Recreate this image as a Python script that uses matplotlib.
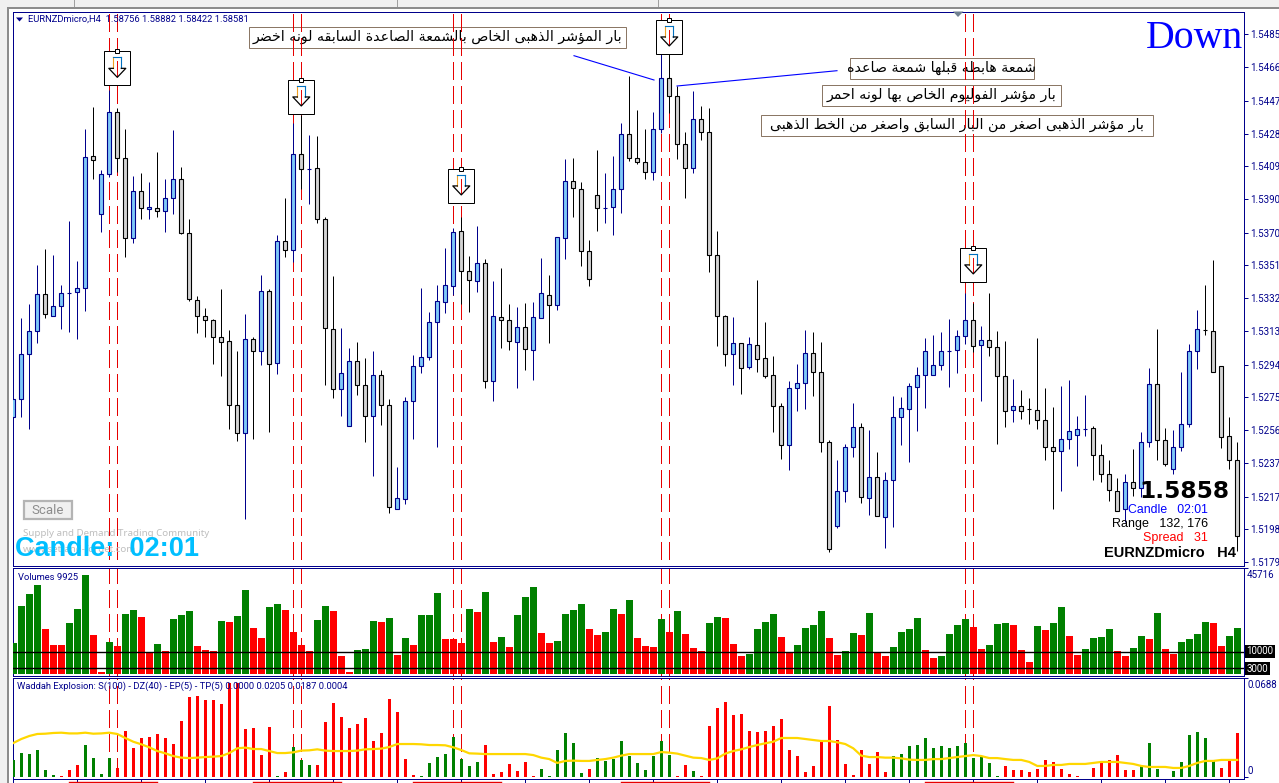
import numpy as np
import matplotlib
matplotlib.use('Agg')
import matplotlib.pyplot as plt
from matplotlib.patches import Rectangle, Polygon
from matplotlib.lines import Line2D

W_PX, H_PX = 1279, 783
NAVY = '#00008B'
TICK_FONT = 'Roboto'
TICK_SIZE = 7.0
LABEL_SIZE = 6.75

# prices are in points (1e-5)
opens = [152636,152741,153002,153135,153350,153222,153280,153357,153361,153385,
         154150,153814,154046,154405,154139,153675,153947,153843,153849,153831,
         153907,154017,153704,153315,153222,153199,153100,153077,152706,152544,
         153089,153019,153367,152950,153657,153605,154162,154075,154081,153785,
         153147,152799,152584,152961,152822,152642,152880,152706,152103,152161,
         152729,152932,152984,153187,153303,153396,153715,153483,153425,153530,
         152845,153216,153199,153071,153158,153025,153211,153344,153286,153675,
         154005,153959,153599,153924,153849,153854,153959,154278,154139,154115,
         154057,154307,154603,154498,154220,154081,154365,154289,153576,153222,
         153002,153066,152926,153054,152979,152880,152700,152474,152805,152834,
         153008,152897,152491,152004,152207,152462,152578,152167,152288,152056,
         152271,152636,152683,152810,152880,152880,152938,153019,153025,153106,
         153199,153054,153083,153042,152874,152677,152700,152684,152677,152619,
         152462,152439,152509,152532,152567,152573,152416,152306,152207,152103,
         152259,152225,152491,152828,152503,152335,152462,152596,153019,153142,
         153135,152932,152526,152387]
highs = [152770,153211,153292,153518,153611,153576,153402,153773,153541,154307,
         154434,154069,154533,154429,154307,154034,154052,154000,154173,154017,
         154301,154086,153785,153338,153269,153205,153379,153141,153019,153234,
         153100,153460,153379,153692,153907,154342,154388,154272,154266,153796,
         153454,153153,153037,153071,152979,153019,152909,152741,152346,152752,
         152996,153385,153245,153402,153617,153733,153796,153570,153744,153553,
         153425,153501,153292,153274,153298,153303,153559,153460,153680,154133,
         154139,154000,153663,154185,154052,154150,154342,154614,154417,154307,
         154405,154748,154794,154556,154289,154527,154440,154429,153715,153228,
         153216,153066,153100,153431,153187,152990,152718,152845,152944,153141,
         153129,153071,152503,152387,152480,152718,152602,152561,152433,152317,
         152758,152752,152834,152926,153095,153112,153129,153205,153141,153356,
         153298,153164,153356,153135,153077,152857,152793,152747,153095,152805,
         152694,152816,152851,152642,152764,152584,152480,152387,152283,152306,
         152451,152549,152921,153147,152573,152561,152897,153060,153257,153402,
         153547,152932,152636,152491]
lows = [152486,152636,152567,153066,153211,153222,153147,153129,153089,153251,
        154017,153709,154028,154057,153564,153646,153785,153785,153796,153709,
        153814,153698,153309,153124,153100,152944,152874,152567,152497,152045,
        152509,152938,152549,152886,153564,153535,153959,153872,153762,152822,
        152747,152642,152584,152764,152491,152294,152590,152079,152103,152132,
        152509,152892,152967,152462,153240,153344,153292,153245,153361,152805,
        152729,153037,153025,152805,152909,152851,153211,153066,153257,153553,
        153796,153512,153396,153715,153762,153692,153820,154121,154104,154017,
        154011,154284,154400,154133,153907,154052,154243,153477,153048,152932,
        152822,152770,152915,152897,152863,152549,152393,152329,152671,152683,
        152758,152433,151853,151993,152143,152404,152138,152068,152062,151877,
        151998,152474,152375,152555,152689,152880,152909,152810,152892,153060,
        153013,152729,152990,152480,152578,152607,152625,152596,152567,152387,
        152103,152207,152451,152352,152526,152271,152259,152149,152091,152027,
        152178,152172,152462,152387,152352,152306,152439,152578,152915,153112,
        152897,152457,152335,151859]
closes = [152741,153002,153135,153350,153234,153280,153356,153357,153385,154144,
          154127,154046,154405,154139,153675,153947,153849,153854,153831,153907,
          154017,153704,153321,153222,153199,153100,153071,152706,152544,153089,
          153019,153367,152944,153657,153605,154162,154075,154075,153785,153153,
          152799,152892,152961,152822,152642,152880,152706,152114,152167,152729,
          152932,152984,153187,153309,153402,153709,153483,153431,153530,152845,
          153222,153199,153077,153158,153031,153216,153356,153286,153680,154005,
          153965,153599,153437,153849,153849,153959,154278,154139,154115,154057,
          154307,154603,154498,154220,154081,154365,154289,153576,153222,153002,
          153066,152921,153060,152973,152874,152700,152474,152805,152834,153008,
          152897,152491,151871,152207,152462,152578,152172,152288,152062,152271,
          152636,152689,152816,152880,153019,152938,153019,153019,153106,153199,
          153048,153083,153042,152874,152671,152700,152671,152683,152619,152462,
          152439,152509,152555,152567,152567,152416,152306,152213,152091,152259,
          152225,152491,152828,152503,152364,152462,152596,153019,153147,153141,
          152897,152520,152387,151946]

price_ticks = [1.54855, 1.54665, 1.54470, 1.54280, 1.54090, 1.53900, 1.53705, 1.53515, 1.53325,
               1.53135, 1.52940, 1.52750, 1.52560, 1.52370, 1.52175, 1.51985, 1.51795]

volumes = [13720,29260,34300,38500,19600,12880,12880,22120,28000,42700,
           17080,1540,14140,12460,25900,27580,24640,9520,13300,10220,
           23800,25480,27160,12460,10780,10220,22960,22540,25060,36400,
           20020,15820,28840,30100,27580,18340,12880,10220,23380,29260,
           27160,8260,1540,10780,11200,22960,22540,24220,8680,15820,
           12880,25480,25480,34720,15400,15400,13720,28000,26740,35140,
           14140,16240,12040,25480,33040,37660,17920,13720,14560,25900,
           27580,30100,19600,17080,18340,28000,25900,31780,15820,12460,
           12040,23800,18340,27160,17500,11620,10220,22120,24640,24220,
           13300,8260,9100,19600,22540,25900,16240,9520,12880,20020,
           21280,27160,15820,8680,10220,17920,17080,26320,10080,8260,
           12040,18340,19600,24220,10780,7420,8260,17500,21280,23800,
           20440,11200,12880,21700,22120,21280,10780,5740,20860,19180,
           22120,28840,16660,8680,11200,15820,16240,19600,10220,8260,
           11620,16660,15400,26320,11200,9100,14140,15400,17500,22540,
           22120,12460,16660,20020]
volume_dirs = ("ggggrrrggg" "rrgrggrrgr" "gggrrrgrgg" "rrggrrrrgg" "rrrgggrgrg"
               "rgggrrrgrg" "rgrgggrrgg" "ggrrggrgrr" "rgrgrrrggr" "rrggggrrgg"
               "ggrrggrgrr" "ggggrrgggg" "rrgggrrrgr" "ggrrggggrr" "ggrgrrgggg" "rrgg")
volume_levels = [10000, 3000]

waddah = [.0119,.0167,.0160,.0188,.0049,.0014,.0005,.0049,.0084,.0223,
          .0132,.0021,.0132,.0063,.0321,.0202,.0272,.0279,.0300,.0272,
          .0230,.0390,.0558,.0565,.0537,.0537,.0509,.0653,.0653,.0335,
          .0342,.0153,.0349,.0007,.0035,.0209,.0119,.0084,.0084,.0383,
          .0516,.0418,.0342,.0370,.0411,.0251,.0307,.0544,.0453,.0125,
          .0014,.0007,.0098,.0139,.0160,.0279,.0125,.0077,.0105,.0223,
          .0021,.0035,.0091,.0042,.0105,.0007,.0056,.0007,.0188,.0307,
          .0237,.0028,.0056,.0132,.0112,.0125,.0251,.0146,.0098,.0049,
          .0146,.0251,.0153,.0007,.0084,.0042,.0007,.0356,.0481,.0523,
          .0432,.0439,.0321,.0314,.0321,.0356,.0404,.0188,.0146,.0035,
          .0077,.0251,.0495,.0258,.0091,.0014,.0188,.0091,.0174,.0035,
          .0146,.0160,.0216,.0223,.0272,.0202,.0216,.0202,.0216,.0237,
          .0132,.0139,.0098,.0007,.0077,.0049,.0049,.0035,.0056,.0119,
          .0105,.0056,.0021,.0007,.0003,.0063,.0098,.0119,.0153,.0049,
          .0049,.0077,.0237,.0056,.0003,.0042,.0105,.0293,.0314,.0272,
          .0119,.0063,.0119,.0307]
waddah_dirs = ("ggggggrrrg" "gggrrrrrrr" "rrrrrrrrrr" "rrrgrgggrr" "rrrrrrrrrr"
               "rggggggggr" "rrrrrrgggg" "ggrggggggg" "gggrrgrrrr" "rrrrrrrrrr"
               "rrrrrrrrrr" "gggggggggg" "ggggrrrrrr" "rrrrgrrrrr" "rgggrggggg" "grrr")
explosion = [.0237,.0265,.0286,.0300,.0302,.0307,.0309,.0304,.0304,.0309,
             .0302,.0304,.0309,.0300,.0272,.0246,.0228,.0207,.0181,.0165,
             .0146,.0135,.0132,.0135,.0139,.0142,.0146,.0167,.0200,.0205,
             .0195,.0195,.0181,.0167,.0167,.0172,.0184,.0186,.0193,.0184,
             .0181,.0181,.0181,.0184,.0193,.0195,.0198,.0209,.0230,.0230,
             .0230,.0228,.0223,.0223,.0221,.0207,.0188,.0165,.0163,.0160,
             .0160,.0160,.0160,.0160,.0160,.0153,.0135,.0125,.0098,.0112,
             .0114,.0112,.0112,.0119,.0125,.0135,.0149,.0160,.0160,.0160,
             .0160,.0174,.0170,.0163,.0149,.0135,.0132,.0119,.0130,.0163,
             .0181,.0193,.0209,.0223,.0235,.0246,.0272,.0272,.0272,.0265,
             .0258,.0251,.0251,.0242,.0230,.0200,.0149,.0139,.0139,.0135,
             .0135,.0130,.0121,.0119,.0119,.0125,.0125,.0132,.0139,.0146,
             .0153,.0146,.0132,.0132,.0125,.0119,.0119,.0105,.0077,.0077,
             .0084,.0084,.0091,.0091,.0091,.0098,.0105,.0105,.0105,.0098,
             .0091,.0077,.0070,.0070,.0070,.0063,.0063,.0077,.0098,.0112,
             .0112,.0119,.0119,.0119]

dashed_bars = [12, 13, 35, 36, 55, 56, 81, 82, 119, 120]
signal_bars = [13, 36, 56, 82, 120]
signal_tops = [154757, 154591, 154075, 154939, 153617]
underlines = [(7, 18), (30, 41), (50, 61), (76, 87), (114, 125)]

note_1 = 'بار المؤشر الذهبى الخاص بالشمعة الصاعدة السابقه لونه اخضر'
note_2 = 'شمعة هابطه قبلها شمعة صاعده'
note_3 = 'بار مؤشر الفوليوم الخاص بها لونه احمر'
note_4 = 'بار مؤشر الذهبى اصغر من البار السابق واصغر من الخط الذهبى'

AR_DUAL = {'ب': 0xFE8F, 'ح': 0xFEA1, 'خ': 0xFEA5, 'س': 0xFEB1, 'ش': 0xFEB5, 'ص': 0xFEB9,
           'ض': 0xFEBD, 'ط': 0xFEC1, 'ع': 0xFEC9, 'غ': 0xFECD, 'ف': 0xFED1, 'ق': 0xFED5,
           'ل': 0xFEDD, 'م': 0xFEE1, 'ن': 0xFEE5, 'ه': 0xFEE9, 'ي': 0xFEF1}
AR_RIGHT = {'ا': 0xFE8D, 'ة': 0xFE93, 'د': 0xFEA9, 'ذ': 0xFEAB, 'ر': 0xFEAD, 'و': 0xFEED,
            'ؤ': 0xFE85, 'ى': 0xFEEF}


def shape_ar(text):
    # matplotlib has no arabic shaping: pick the joined forms, then visual order
    out = []
    for k, ch in enumerate(text):
        prev = text[k - 1] if k else ' '
        nxt = text[k + 1] if k + 1 < len(text) else ' '
        join_prev = prev in AR_DUAL
        join_next = ch in AR_DUAL and (nxt in AR_DUAL or nxt in AR_RIGHT)
        if ch in AR_DUAL:
            out.append(chr(AR_DUAL[ch] + (3 if join_prev and join_next else 2 if join_next else 1 if join_prev else 0)))
        elif ch in AR_RIGHT:
            out.append(chr(AR_RIGHT[ch] + (1 if join_prev else 0)))
        else:
            out.append(ch)
    return ''.join(reversed(out))


def fx(px):
    return px / W_PX


def fy(py):
    return 1 - py / H_PX


def panel(left, top, right, bottom):
    ax = fig.add_axes([fx(left), fy(bottom), fx(right - left), (bottom - top) / H_PX])
    for s in ax.spines.values():
        s.set_color(NAVY)
        s.set_linewidth(0.72)
    ax.set_xlim(-0.1, 153.78)
    ax.set_xticks([])
    ax.yaxis.tick_right()
    ax.tick_params(axis='y', length=3, width=0.72, color=NAVY, labelcolor=NAVY, labelsize=TICK_SIZE, pad=2)
    return ax


def dashed(ax, bottom):
    # keep the dash phase continuous through the three panels
    offset = (319 - bottom) % 24
    for b in dashed_bars:
        ax.axvline(b, color='#E60000', lw=0.72, ls=(offset, (18, 6)), zorder=2)


def note(ax, text, left, top, right, bottom, size):
    ax.add_patch(Rectangle((fx(left), fy(bottom)), fx(right - left), (bottom - top) / H_PX, transform=fig.transFigure,
                           fc='white', ec='#8B7765', lw=0.72, zorder=1, clip_on=False))
    ax.text(fx((left + right) / 2), fy((top + bottom) / 2), shape_ar(text), transform=fig.transFigure,
            fontsize=size, family='DejaVu Sans', color='black', ha='center', va='center', zorder=1.5)


def signal(ax, bar, top):
    px, py = 1 / 8, 5.8e-5
    top = top / 1e5
    ax.add_patch(Rectangle((bar - 13 * px, top - 34 * py), 26 * px, 34 * py, fc='white', ec='black', lw=0.72, zorder=6))
    ax.add_patch(Rectangle((bar - 2 * px, top - 2 * py), 4 * px, 4 * py, fc='white', ec='black', lw=0.72, zorder=7))
    ax.add_patch(Polygon([(bar - 4 * px, top - 6 * py), (bar + 4 * px, top - 6 * py), (bar + 4 * px, top - 17 * py),
                          (bar + 8.5 * px, top - 17 * py), (bar, top - 26 * py), (bar - 8.5 * px, top - 17 * py),
                          (bar - 4 * px, top - 17 * py)], fc='white', ec='none', zorder=6.5))
    ax.plot([bar - 4 * px] * 2, [top - 6 * py, top - 17 * py], color='#F0A020', lw=0.8, zorder=7)
    ax.plot([bar + 4 * px] * 2, [top - 6 * py, top - 17 * py], color='#0070C0', lw=0.8, zorder=7)
    ax.plot([bar - 4 * px, bar + 4 * px], [top - 6 * py] * 2, color='#0070C0', lw=0.8, zorder=7)
    ax.plot([bar, bar], [top - 10 * py, top - 25 * py], color='#E60000', lw=0.7, zorder=6.8)
    ax.plot([bar - 4 * px, bar - 8.5 * px, bar, bar + 8.5 * px, bar + 4 * px],
            [top - 17 * py, top - 17 * py, top - 26 * py, top - 17 * py, top - 17 * py], color='black', lw=0.9, zorder=7)


fig = plt.figure(figsize=(W_PX / 100, H_PX / 100), dpi=100, facecolor='white')

# terminal window frame
fig.add_artist(Rectangle((0, fy(7)), 1, 7 / H_PX, transform=fig.transFigure, fc='#F0F0F0', ec='none'))
fig.add_artist(Rectangle((0, fy(8.5)), 1, 1.5 / H_PX, transform=fig.transFigure, fc='#8C8C8C', ec='none'))
fig.add_artist(Rectangle((0, 0), fx(7), 1, transform=fig.transFigure, fc='#F0F0F0', ec='none'))
fig.add_artist(Rectangle((fx(7), 0), fx(2), fy(7), transform=fig.transFigure, fc='#8C8C8C', ec='none'))
for sep in [74, 397, 658]:
    fig.add_artist(Rectangle((fx(sep), fy(7)), fx(1), 7 / H_PX, transform=fig.transFigure, fc='#A0A0A0', ec='none'))

# price panel
ax = panel(12.5, 11.5, 1243.5, 565.5)
o, h, l, c = [np.array(a) / 1e5 for a in (opens, highs, lows, closes)]
idx = np.arange(len(o))
up = c >= o
ax.set_ylim(151775 / 1e5, 154988 / 1e5)
ax.set_yticks(price_ticks)
ax.set_yticklabels([f'{p:.5f}' for p in price_ticks], family=TICK_FONT)
dashed(ax, 565.5)
ax.vlines(idx[up], l[up], h[up], color=NAVY, lw=0.72, zorder=3)
ax.vlines(idx[~up], l[~up], h[~up], color='black', lw=0.72, zorder=3)
body_lo = np.minimum(o, c)
body_hi = np.maximum(o, c)
ax.bar(idx[up], (body_hi - body_lo)[up], 0.5, bottom=body_lo[up], color='#7EC8F8', edgecolor=NAVY, lw=0.8, zorder=4)
ax.bar(idx[~up], (body_hi - body_lo)[~up], 0.5, bottom=body_lo[~up], color='#D3D3D3', edgecolor='black', lw=0.8, zorder=4)

note(ax, note_1, 248.5, 26.5, 626, 48, 10.2)
note(ax, note_2, 849.5, 57.5, 1033.5, 79, 10.2)
note(ax, note_3, 821.5, 84.5, 1060.5, 106, 10.2)
note(ax, note_4, 761.5, 114.5, 1153, 136, 10.2)
fig.add_artist(Line2D([fx(574), fx(654)], [fy(55.7), fy(80)], color='#0000FF', lw=0.8))
fig.add_artist(Line2D([fx(677), fx(837)], [fy(86), fy(70.7)], color='#0000FF', lw=0.8))

for b, t in zip(signal_bars, signal_tops):
    signal(ax, b, t)

fig.add_artist(Polygon([(fx(16), fy(17.5)), (fx(23), fy(17.5)), (fx(19.5), fy(21.5))], transform=fig.transFigure, fc=NAVY, ec='none'))
fig.add_artist(Polygon([(fx(953), fy(11.5)), (fx(963.5), fy(11.5)), (fx(958), fy(17)), ], transform=fig.transFigure, fc='#708090', ec='none'))
fig.text(fx(28), fy(19.5), 'EURNZDmicro,H4  1.58756 1.58882 1.58422 1.58581', color=NAVY, fontsize=LABEL_SIZE, family=TICK_FONT, va='center')
fig.text(fx(1146), fy(48), 'Down', color='#0000FF', fontsize=28.6, family='Liberation Serif', va='baseline')

fig.add_artist(Rectangle((fx(24), fy(519)), fx(48), 18 / H_PX, transform=fig.transFigure, fc='#F0F0F0', ec='#B4B4B4', lw=1.6))
fig.text(fx(47.5), fy(510), 'Scale', color='#8C8C8C', fontsize=9.5, family=TICK_FONT, ha='center', va='center')
fig.text(fx(23), fy(534), 'Supply and Demand Trading Community', color='#BEBEBE', fontsize=7, family='Noto Sans', va='center')
fig.text(fx(23), fy(549), 'www.set-and-forget.com', color='#BEBEBE', fontsize=7, family='Noto Sans', va='center')
fig.text(fx(15), fy(548.5), 'Candle:  02:01', color='#00BFFF', fontsize=19.5, family='Liberation Sans', weight='bold', va='center')
fig.text(fx(1230), fy(491), '1.5858', color='black', fontsize=16.8, family='DejaVu Sans', weight='bold', ha='right', va='center', zorder=8)
fig.text(fx(1208), fy(510), 'Candle   02:01', color='#0000FF', fontsize=8.8, family='Liberation Sans', ha='right', va='center')
fig.text(fx(1208), fy(524), 'Range   132, 176', color='black', fontsize=9, family='Liberation Sans', ha='right', va='center')
fig.text(fx(1208), fy(538), 'Spread   31', color='#FF0000', fontsize=9, family='Liberation Sans', ha='right', va='center')
fig.text(fx(1236), fy(553), 'EURNZDmicro   H4', color='black', fontsize=10.5, family='Liberation Sans', weight='bold', ha='right', va='center')

# volume panel
vx = panel(12.5, 567.5, 1243.5, 675.5)
vx.set_ylim(0, 45716)
vx.set_yticks([45716] + volume_levels)
vx.set_yticklabels([])
dashed(vx, 675.5)
vol_colors = ['#008000' if d == 'g' else '#FF0000' for d in volume_dirs]
vol = np.array(volumes)
vol_floor = 600
vx.bar(idx, vol - vol_floor, 0.875, bottom=vol_floor, color=vol_colors, lw=0, zorder=3)
for lev in volume_levels:
    vx.axhline(lev, color='black', lw=1, zorder=4)
fig.text(fx(18), fy(577), 'Volumes 9925', color=NAVY, fontsize=LABEL_SIZE, family=TICK_FONT, va='center')
fig.text(fx(1247), fy(574.5), '45716', color=NAVY, fontsize=TICK_SIZE, family=TICK_FONT, va='center')
fig.text(fx(1246.5), fy(651.5), '10000', color='white', fontsize=TICK_SIZE, family=TICK_FONT, va='center',
         bbox=dict(fc='black', ec='none', pad=1.2))
fig.text(fx(1246.5), fy(668.5), '3000', color='white', fontsize=TICK_SIZE, family=TICK_FONT, va='center',
         bbox=dict(fc='black', ec='none', pad=1.2))

# waddah panel
wx = panel(12.5, 677.5, 1243.5, 778.5)
wx.set_ylim(-0.00105, 0.0694)
wx.set_yticks([0.0688, 0])
wx.set_yticklabels([])
wx.set_xticks(idx[::8])
wx.set_xticklabels([])
wx.tick_params(axis='x', length=3, width=0.72, color=NAVY)
dashed(wx, 778.5)
wad_colors = ['#008000' if d == 'g' else '#FF0000' for d in waddah_dirs]
wx.bar(idx, waddah, 0.375, color=wad_colors, lw=0, zorder=3)
wx.plot(idx, explosion, color='#FFD700', lw=1.6, zorder=4)
fig.text(fx(17), fy(686), 'Waddah Explosion: S(100) - DZ(40) - EP(5) - TP(5) 0.0000 0.0205 0.0187 0.0004',
         color=NAVY, fontsize=LABEL_SIZE, family=TICK_FONT, va='center')
fig.text(fx(1247), fy(685), '0.0688', color=NAVY, fontsize=TICK_SIZE, family=TICK_FONT, va='center')
fig.text(fx(1247), fy(771.5), '0', color=NAVY, fontsize=TICK_SIZE, family=TICK_FONT, va='center')

for a, b in underlines:
    xa, xb = 13.3 + 8 * a, 13.3 + 8 * b
    fig.add_artist(Line2D([fx(xa), fx(xb)], [fy(782), fy(782)], color='#E60000', lw=1))

fig.savefig('out.png', dpi=100)
